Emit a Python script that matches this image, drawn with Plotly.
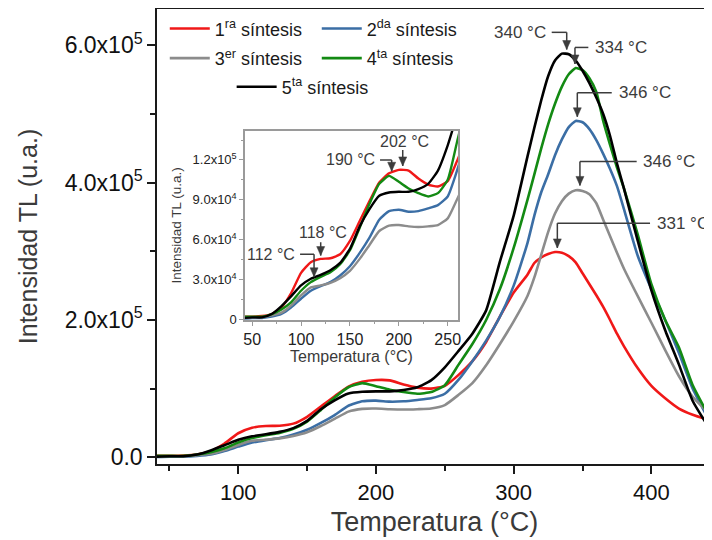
import plotly.graph_objects as go

# ---------------- data ----------------
temperature = [41, 50, 60, 70, 80, 90, 100, 110, 120, 130, 140, 150, 160, 170, 180, 190,
               200, 210, 220, 230, 240, 250, 260, 270, 280, 290, 300, 310, 315, 320, 325,
               330, 335, 340, 345, 350, 355, 360, 365, 370, 375, 380, 390, 400, 410, 420,
               430, 444]

tl_1ra = [2000, 2000, 2500, 4000, 9000, 20000, 35000, 43000, 45500, 46000, 49000, 59000,
          74000, 89000, 103000, 110000, 112500, 112000, 106000, 101500, 100000, 104000,
          120000, 140000, 168000, 205000, 240000, 266000, 283000, 291000, 296000, 299000,
          298000, 293000, 284000, 268000, 252000, 236000, 219000, 200000, 180000, 162000,
          130000, 104000, 86000, 71000, 62000, 53000]

tl_2da = [500, 1000, 1000, 2000, 4000, 9000, 15500, 21500, 25000, 28000, 33000, 40000,
          50000, 61500, 75000, 81500, 82500, 81000, 81500, 83500, 86000, 92500, 113000,
          140000, 170000, 205000, 250000, 312000, 352000, 386000, 412000, 440000, 463000,
          481000, 490000, 488000, 478000, 462000, 442000, 420000, 395000, 362000, 294000,
          245000, 200000, 152000, 100000, 46000]

tl_3er = [1000, 1500, 1500, 3000, 5000, 10500, 18000, 24000, 25500, 27500, 31000, 36500,
          45500, 56000, 66500, 70500, 71000, 70000, 69500, 70000, 71000, 76000, 91000,
          108000, 134000, 165000, 198000, 235000, 262000, 295000, 328000, 355000, 373000,
          384000, 389000, 388000, 383000, 370000, 346000, 322000, 298000, 275000, 235000,
          196000, 156000, 118000, 88000, 60000]

tl_4ta = [2000, 2000, 2000, 4000, 7500, 13000, 21500, 28000, 32000, 35500, 41500, 52000,
          69000, 87000, 102000, 108000, 103500, 98500, 95000, 92500, 95000, 105000, 135000,
          165000, 200000, 245000, 305000, 375000, 412000, 450000, 485000, 515000, 540000,
          558000, 567000, 564000, 552000, 532000, 490000, 455000, 422000, 392000, 325000,
          252000, 200000, 160000, 105000, 52000]

tl_5ta = [1000, 1500, 1500, 4000, 10000, 17500, 25500, 30500, 33500, 37000, 42500, 53000,
          70000, 83000, 93000, 95500, 96000, 96000, 98000, 102000, 112000, 131000, 155000,
          180000, 214000, 285000, 352000, 438000, 480000, 520000, 555000, 578000, 588000,
          587000, 578000, 563000, 545000, 524000, 500000, 468000, 428000, 392000, 316000,
          243000, 185000, 135000, 82000, 36000]

series_values = [tl_1ra, tl_2da, tl_3er, tl_4ta, tl_5ta]
series_names = ["1<sup>ra</sup> síntesis", "2<sup>da</sup> síntesis", "3<sup>er</sup> síntesis",
                "4<sup>ta</sup> síntesis", "5<sup>ta</sup> síntesis"]
series_colors = ["#f01818", "#3b6ea5", "#8c8c8c", "#138a13", "#000000"]
series_legends = ["legend", "legend", "legend2", "legend2", "legend3"]

main_x_ticks = [100, 200, 300, 400]
main_x_minor = [50, 150, 250, 350]
main_y_ticks = [0, 200000, 400000, 600000]
main_y_labels = ["0.0", "2.0x10<sup>5</sup>", "4.0x10<sup>5</sup>", "6.0x10<sup>5</sup>"]
main_y_minor = [100000, 300000, 500000]

inset_x_ticks = [50, 100, 150, 200, 250]
inset_x_minor = [75, 125, 175, 225]
inset_y_ticks = [0, 30000, 60000, 90000, 120000]
inset_y_labels = ["0", "3.0x10<sup>4</sup>", "6.0x10<sup>4</sup>", "9.0x10<sup>4</sup>",
                  "1.2x10<sup>5</sup>"]
inset_y_minor = [15000, 45000, 75000, 105000, 135000]

# peak notes: label, text x, text anchor, text y, elbow start x, arrow x, arrow tail y, arrow tip y
main_peaks = [
    ("340 °C", 325.0, "right", 619000, 327.6, 338.5, 619000, 594000),
    ("334 °C", 357.6, "left", 597000, 354.2, 344.5, 597000, 573000),
    ("346 °C", 374.8, "left", 531000, 371.2, 346.2, 531000, 496000),
    ("346 °C", 392.2, "left", 431000, 389.3, 348.1, 431000, 396000),
    ("331 °C", 402.6, "left", 341000, 399.0, 331.7, 341000, 305000),
]
inset_peaks = [
    ("202 °C", 206.0, "center", 133700, None, 204.0, 127500, 115500),
    ("190 °C", 177.4, "right", 120000, 180.8, 192.7, 120000, 111500),
    ("118 °C", 122.5, "center", 65000, None, 120.1, 58000, 48000),
    ("112 °C", 95.6, "right", 49000, 99.0, 113.3, 49000, 32000),
]

FONT = "Liberation Sans, Arial, sans-serif"
AXIS_DARK = "#1a1a1a"
INSET_GRAY = "#9a9a9a"
NOTE_COLOR = "#3c3c3c"

fig = go.Figure()

for vals, name, color, leg in zip(series_values, series_names, series_colors, series_legends):
    fig.add_trace(go.Scatter(x=temperature, y=vals, name=name, mode="lines",
                             line=dict(color=color, width=2.6, shape="spline", smoothing=0.5),
                             legend=leg, xaxis="x", yaxis="y"))
for vals, name, color in zip(series_values, series_names, series_colors):
    fig.add_trace(go.Scatter(x=temperature, y=vals, name=name, mode="lines",
                             line=dict(color=color, width=2.4, shape="spline", smoothing=0.5),
                             showlegend=False, xaxis="x2", yaxis="y2"))

annotations = []
shapes = []


def add_peak_notes(peaks, xref, yref, size):
    for label, tx, anchor, ty, elbow_x, ax_x, tail_y, tip_y in peaks:
        annotations.append(dict(x=tx, y=ty, xref=xref, yref=yref, text=label, showarrow=False,
                                xanchor=anchor, yanchor="middle",
                                font=dict(family=FONT, size=size, color=NOTE_COLOR)))
        line_style = dict(color=NOTE_COLOR, width=1.5)
        if elbow_x is not None:
            shapes.append(dict(type="line", xref=xref, yref=yref, x0=elbow_x, x1=ax_x,
                               y0=tail_y, y1=tail_y, line=line_style))
        shapes.append(dict(type="line", xref=xref, yref=yref, x0=ax_x, x1=ax_x,
                           y0=tail_y, y1=tip_y, line=line_style))
        # arrow head: small filled triangle, sized in pixels, anchored at the tip
        shapes.append(dict(type="path", xref=xref, yref=yref,
                           xsizemode="pixel", ysizemode="pixel", xanchor=ax_x, yanchor=tip_y,
                           path="M-4,9 L4,9 L0,0 Z", fillcolor=NOTE_COLOR,
                           line=dict(color=NOTE_COLOR, width=0.5)))


add_peak_notes(main_peaks, "x", "y", 17)
add_peak_notes(inset_peaks, "x2", "y2", 16)

legend_common = dict(orientation="h", xanchor="left", yanchor="top", entrywidth=97,
                     itemwidth=40, bgcolor="rgba(0,0,0,0)",
                     font=dict(family=FONT, size=18, color="#1a1a1a"))

# The page body adds an 8 px offset, so the figure is drawn 704x532 and fills the window.
fig.update_layout(
    width=704, height=532,
    margin=dict(l=149, r=0, t=1, b=76, autoexpand=False),
    paper_bgcolor="white", plot_bgcolor="white",
    font=dict(family=FONT, color="#111111"),
    annotations=annotations, shapes=shapes,
    legend=dict(x=0.014, y=0.997, **legend_common),
    legend2=dict(x=0.014, y=0.932, **legend_common),
    legend3=dict(x=0.1345, y=0.869, **legend_common),
    xaxis=dict(range=[41, 444], tickmode="array", tickvals=main_x_ticks, automargin=False,
               ticks="outside", ticklen=8, tickwidth=1.5, tickcolor=AXIS_DARK,
               showline=True, linecolor=AXIS_DARK, linewidth=1.5, mirror=True,
               showgrid=False, zeroline=False,
               minor=dict(tickvals=main_x_minor, ticks="outside", ticklen=5,
                          tickcolor=AXIS_DARK, tickwidth=1.5),
               tickfont=dict(family=FONT, size=22, color="#111111"),
               title=dict(text="Temperatura (°C)", standoff=8,
                          font=dict(family=FONT, size=27, color="#3a3a3a"))),
    yaxis=dict(range=[-9800, 653000], tickmode="array", tickvals=main_y_ticks,
               ticktext=main_y_labels, automargin=False,
               ticks="outside", ticklen=8, tickwidth=1.5, tickcolor=AXIS_DARK,
               showline=True, linecolor=AXIS_DARK, linewidth=1.5,
               showgrid=False, zeroline=False,
               minor=dict(tickvals=main_y_minor, ticks="outside", ticklen=5,
                          tickcolor=AXIS_DARK, tickwidth=1.5),
               tickfont=dict(family=FONT, size=23, color="#111111"),
               title=dict(text="Intensidad TL (u.a.)", standoff=20,
                          font=dict(family=FONT, size=25, color="#3a3a3a"))),
    xaxis2=dict(domain=[0.1586, 0.5423], anchor="y2", range=[42.7, 260.5], automargin=False,
                tickmode="array", tickvals=inset_x_ticks,
                ticks="outside", ticklen=4, tickwidth=1.2, tickcolor=INSET_GRAY,
                showline=True, linecolor=INSET_GRAY, linewidth=1.5, mirror=True,
                showgrid=False, zeroline=False,
                minor=dict(tickvals=inset_x_minor, ticks="outside", ticklen=2,
                           tickcolor=INSET_GRAY),
                tickfont=dict(family=FONT, size=16, color="#222222"),
                title=dict(text="Temperatura (°C)", standoff=3,
                           font=dict(family=FONT, size=16, color="#3a3a3a"))),
    yaxis2=dict(domain=[0.3165, 0.7325], anchor="x2", range=[-500, 142000], automargin=False,
                tickmode="array", tickvals=inset_y_ticks, ticktext=inset_y_labels,
                ticks="outside", ticklen=4, tickwidth=1.2, tickcolor=INSET_GRAY,
                showline=True, linecolor=INSET_GRAY, linewidth=1.5, mirror=True,
                showgrid=False, zeroline=False,
                minor=dict(tickvals=inset_y_minor, ticks="outside", ticklen=2,
                           tickcolor=INSET_GRAY),
                tickfont=dict(family=FONT, size=13, color="#222222"),
                title=dict(text="Intensidad TL (u.a.)", standoff=8,
                           font=dict(family=FONT, size=13.5, color="#3a3a3a"))),
)

fig.write_html("out.html")
